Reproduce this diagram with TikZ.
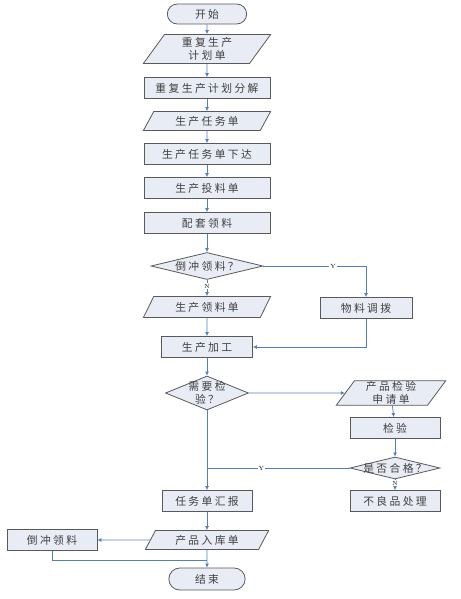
\documentclass[tikz,border=0pt]{standalone}
\usepackage{fontspec}
\newfontfamily\cjk[LetterSpace=22]{Noto Sans CJK SC}
\usetikzlibrary{shapes.geometric,shapes.misc,arrows.meta}
\definecolor{boxfill}{HTML}{E8ECF4}
\definecolor{boxline}{HTML}{595959}
\definecolor{flow}{HTML}{4F81BD}
\definecolor{txt}{HTML}{404040}

\begin{document}
\begin{tikzpicture}[x=1pt,y=-1pt,
  font=\cjk\fontsize{10.8}{12.5}\selectfont, text=txt,
  >={Latex[length=4pt,width=4pt]},
  proc/.style={draw=boxline,fill=boxfill,line width=0.8pt,minimum width=126,minimum height=21,inner sep=1pt},
  io/.style={trapezium,trapezium left angle=62,trapezium right angle=118,trapezium stretches=true,
    draw=boxline,fill=boxfill,line width=0.8pt,minimum width=128,minimum height=19,inner sep=1pt,align=center},
  term/.style={rounded rectangle,draw=boxline,fill=boxfill,line width=0.8pt,minimum width=86,minimum height=20},
  dec/.style={diamond,draw=boxline,fill=boxfill,line width=0.8pt,inner sep=0pt},
  yn/.style={font=\rmfamily\fontsize{6}{7}\selectfont,fill=white,inner sep=1pt,text=black},
  link/.style={->,draw=flow,line width=0.8pt},
  flowline/.style={draw=flow,line width=0.8pt}]

  \useasboundingbox (0,0) rectangle (460,599);

  % main column
  \node[term] (St) at (207,14) {开始};
  \node[io,minimum height=29] (ReSc) at (207,49) {重复生产\\计划单};
  \node[proc] (ReDe) at (207,88) {重复生产计划分解};
  \node[io] (PrTa) at (207,121) {生产任务单};
  \node[proc] (TaIs) at (207,154) {生产任务单下达};
  \node[proc] (FeLi) at (207,188) {生产投料单};
  \node[proc] (KiPi) at (207,223) {配套领料};
  \node[dec,minimum width=112,minimum height=27,label=center:{倒冲领料？}] (BaQ) at (207,266) {};
  \node[io,minimum height=21] (PrPi) at (207,307) {生产领料单};
  \node[proc,minimum width=91] (PrPr) at (207,347) {生产加工};
  \node[dec,minimum width=83,minimum height=34,label={[align=center,text=txt]center:需要检\\验？}] (InQ) at (207,393) {};
  \node[proc,minimum width=90] (TaRe) at (207,501) {任务单汇报};
  \node[io,minimum width=124] (InSt) at (207,540) {产品入库单};
  \node[term,minimum width=83,minimum height=22] (End) at (207,579) {结束};

  % right column
  \node[proc,minimum width=92] (MaTr) at (366,308) {物料调拨};
  \node[io,minimum width=110,minimum height=21] (InAp) at (391,393) {产品检验\\申请单};
  \node[proc,minimum width=90] (Insp) at (395,428) {检验};
  \node[dec,minimum width=90,minimum height=22,label=center:{是否合格？}] (OkQ) at (395,468) {};
  \node[proc,minimum width=90] (Rej) at (395,501) {不良品处理};

  % left
  \node[proc,minimum width=90] (BaPi) at (52,540) {倒冲领料};

  \coordinate (YJoin) at (207,468);
  \coordinate (EJoin) at (207,560);

  \draw[link] (St) -- (ReSc);
  \draw[link] (ReSc) -- (ReDe);
  \draw[link] (ReDe) -- (PrTa);
  \draw[link] (PrTa) -- (TaIs);
  \draw[link] (TaIs) -- (FeLi);
  \draw[link] (FeLi) -- (KiPi);
  \draw[link] (KiPi) -- (BaQ);
  \draw[link] (BaQ) -- node[yn,pos=0.4]{N} (PrPi);
  \draw[link] (BaQ.east) -| node[yn,pos=0.34]{Y} (MaTr);
  \draw[link] (PrPi) -- (PrPr);
  \draw[link] (MaTr) |- (PrPr);
  \draw[link] (PrPr) -- (InQ);
  \draw[link] (InQ) -- (InAp);
  \draw[link] (InAp) -- (Insp);
  \draw[link] (Insp) -- (OkQ);
  \draw[link] (OkQ) -- node[yn,pos=0.35]{N} (Rej);
  \draw[flowline] (OkQ.west) -- node[yn,pos=0.62]{Y} (YJoin);
  \draw[link] (InQ) -- (TaRe);
  \draw[link] (TaRe) -- (InSt);
  \draw[link] (InSt) -- (BaPi);
  \draw[link] (InSt) -- (End);
  \draw[flowline] (BaPi.south) |- (EJoin);

\end{tikzpicture}
\end{document}
